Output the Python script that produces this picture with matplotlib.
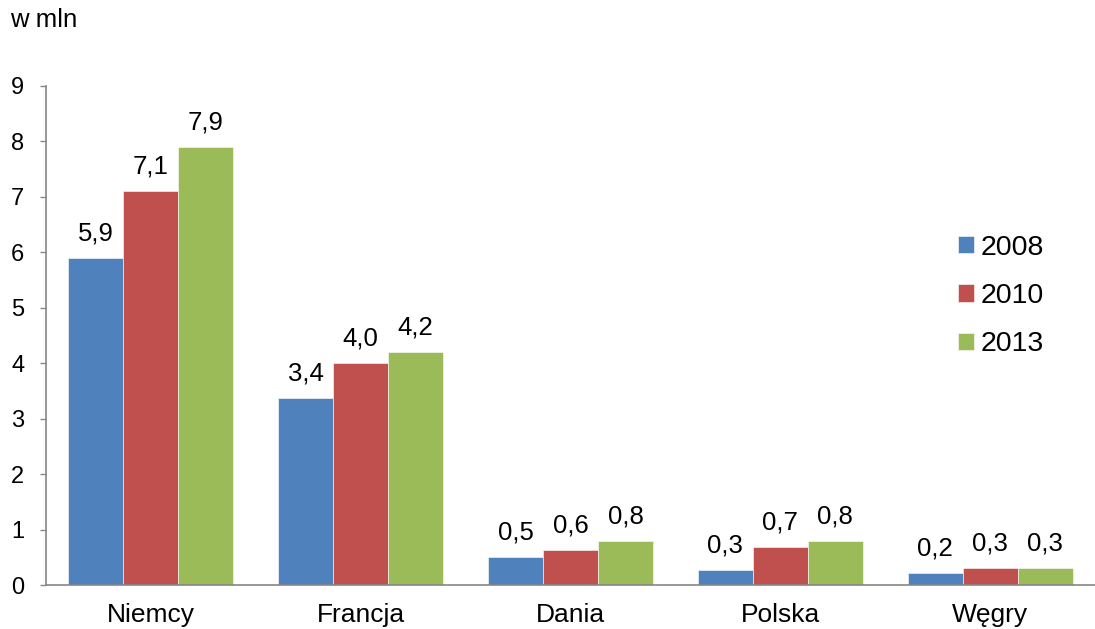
import matplotlib
matplotlib.use('Agg')
import matplotlib.pyplot as plt
import numpy as np

plt.rcParams['font.family'] = ['Liberation Sans', 'DejaVu Sans']

countries = ['Niemcy', 'Francja', 'Dania', 'Polska', 'Węgry']
years = ['2008', '2010', '2013']
v2008 = [5.9, 3.37, 0.5, 0.27, 0.21]
v2010 = [7.1, 4.0, 0.63, 0.68, 0.31]
v2013 = [7.9, 4.2, 0.8, 0.8, 0.31]
colors = ['#4F81BD', '#C0504D', '#9BBB59']

fig = plt.figure(figsize=(10.95, 6.29), dpi=100)
ax = fig.add_axes([46 / 1095, 44 / 629, 1 - 46 / 1095, 499 / 629])

x = np.arange(len(countries))
w = 0.262
for i, (vals, yr, c) in enumerate(zip([v2008, v2010, v2013], years, colors)):
    pos = x + (i - 1) * w
    ax.bar(pos, vals, w, color=c, label=yr, edgecolor='white', linewidth=0.4)
    for px, v in zip(pos, vals):
        ax.annotate(f'{v:.1f}'.replace('.', ','), (px, v), xytext=(0, 12.5),
                    textcoords='offset points', ha='center', va='baseline',
                    fontsize=18.5)

ax.set_xlim(-0.5, len(countries) - 0.5)
ax.set_ylim(0, 9)
ax.set_yticks(range(0, 10))
ax.set_xticks(x)
ax.set_xticklabels(countries, fontsize=19)
ax.tick_params(axis='x', length=0, pad=13)
ax.tick_params(axis='y', labelsize=17, length=4.5, width=1, color='#868686',
               direction='out', pad=11)
for s in ['top', 'right']:
    ax.spines[s].set_visible(False)
for s in ['left', 'bottom']:
    ax.spines[s].set_color('#868686')
    ax.spines[s].set_linewidth(1.2)

fig.text(10 / 1095, 1 - 20 / 629, 'w mln', fontsize=18.5, ha='left', va='center')

fig.legend(loc='center left', bbox_to_anchor=(958 / 1095, 1 - 296 / 629),
           frameon=False, fontsize=20.5, handlelength=0.55, handleheight=0.55,
           handletextpad=0.25, labelspacing=0.78, borderpad=0, borderaxespad=0)

fig.savefig('out.png', dpi=100)
